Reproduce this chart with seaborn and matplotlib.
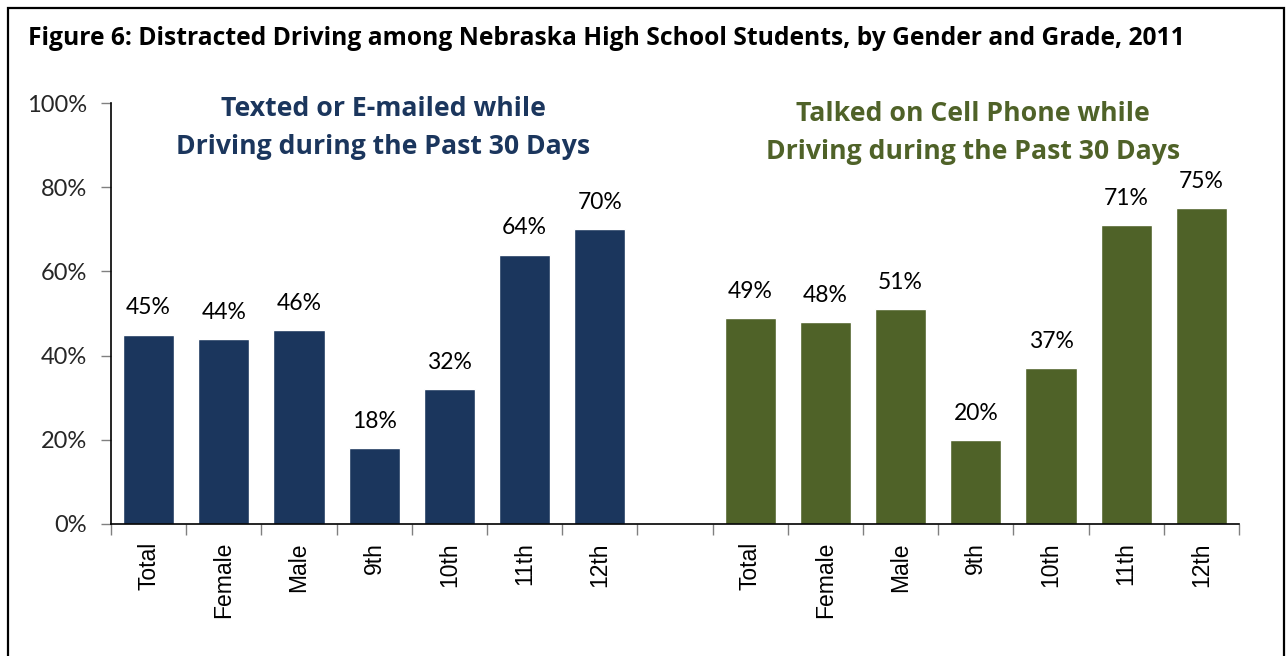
import matplotlib
matplotlib.use("Agg")
import matplotlib.pyplot as plt
from matplotlib.patches import Rectangle
from matplotlib.ticker import FixedLocator, FuncFormatter
import seaborn as sns
import pandas as pd

# ---- data ----
categories = ["Total", "Female", "Male", "9th", "10th", "11th", "12th"]
texted = [45, 44, 46, 18, 32, 64, 70]
talked = [49, 48, 51, 20, 37, 71, 75]
group_titles = ["Texted or E-mailed while\nDriving during the Past 30 Days",
                "Talked on Cell Phone while\nDriving during the Past 30 Days"]
title = "Figure 6: Distracted Driving among Nebraska High School Students, by Gender and Grade, 2011"
y_ticks = [0, 20, 40, 60, 80, 100]

NAVY = "#1B365D"
GREEN = "#4F6228"

W, H = 1286, 656
sns.set_theme(style="white")
plt.rcParams["font.family"] = ["Lato", "DejaVu Sans"]
BOLD_FAM = ["Open Sans", "DejaVu Sans"]

keys_a = [f"A|{c}" for c in categories]
keys_b = [f"B|{c}" for c in categories]
order = keys_a + ["gap"] + keys_b
df = pd.DataFrame({
    "key": keys_a + keys_b,
    "value": texted + talked,
    "group": ["texted"] * len(texted) + ["talked"] * len(talked),
})

fig = plt.figure(figsize=(W / 100, H / 100), dpi=100)
ax = fig.add_axes([111 / W, (H - 524) / H, (1239 - 111) / W, (524 - 103) / H])

sns.barplot(data=df, x="key", y="value", hue="group", order=order,
            palette={"texted": NAVY, "talked": GREEN}, dodge=False,
            width=0.68, saturation=1, legend=False, ax=ax, errorbar=None)

ax.set_xlim(-0.5, len(order) - 0.5)
ax.set_ylim(0, 100)
ax.set_xlabel("")
ax.set_ylabel("")

# x labels
labels = categories + [""] + categories
ax.set_xticks(range(len(order)))
ax.set_xticklabels(labels, rotation=90, fontfamily=["Liberation Sans", "DejaVu Sans"],
                   fontsize=16.5, color="black")
ax.tick_params(axis="x", which="major", length=0, pad=13)
ax.xaxis.set_minor_locator(FixedLocator([i - 0.5 for i in range(len(order) + 1)]))
ax.tick_params(axis="x", which="minor", length=8, width=1, color="#808080", direction="out", bottom=True)

# y labels
ax.set_yticks(y_ticks)
ax.yaxis.set_major_formatter(FuncFormatter(lambda v, p: f"{int(v)}%"))
ax.tick_params(axis="y", which="major", length=7, width=1, color="#808080", direction="out",
               labelsize=17, pad=10.5, left=True)

for s in ["top", "right"]:
    ax.spines[s].set_visible(False)
for s in ["left", "bottom"]:
    ax.spines[s].set_color("black")
    ax.spines[s].set_linewidth(1.2)
ax.grid(False)

# value labels
for bar_container in ax.containers:
    for rect in bar_container:
        h = rect.get_height()
        if pd.isna(h):
            continue
        ax.annotate(f"{int(round(h))}%", (rect.get_x() + rect.get_width() / 2, h),
                    xytext=(0, 14.5), textcoords="offset points",
                    ha="center", va="baseline", fontsize=16.5, color="black")

# group titles
fig.text(383 / W, 1 - 128 / H, group_titles[0], ha="center", va="center",
         fontsize=19.2, fontweight="bold", color=NAVY, linespacing=1.6, family=BOLD_FAM)
fig.text(973 / W, 1 - 133 / H, group_titles[1], ha="center", va="center",
         fontsize=19.2, fontweight="bold", color=GREEN, linespacing=1.6, family=BOLD_FAM)

# figure title
fig.text(28 / W, 1 - 45 / H, title, ha="left", va="baseline",
         fontsize=17.7, fontweight="bold", color="black", family=BOLD_FAM)

# border
fig.add_artist(Rectangle((8 / W, -0.02), (1284 - 8) / W, (H - 8) / H + 0.02,
                         transform=fig.transFigure, fill=False, edgecolor="black",
                         linewidth=1.6))

fig.savefig("out.png", dpi=100, facecolor="white")
